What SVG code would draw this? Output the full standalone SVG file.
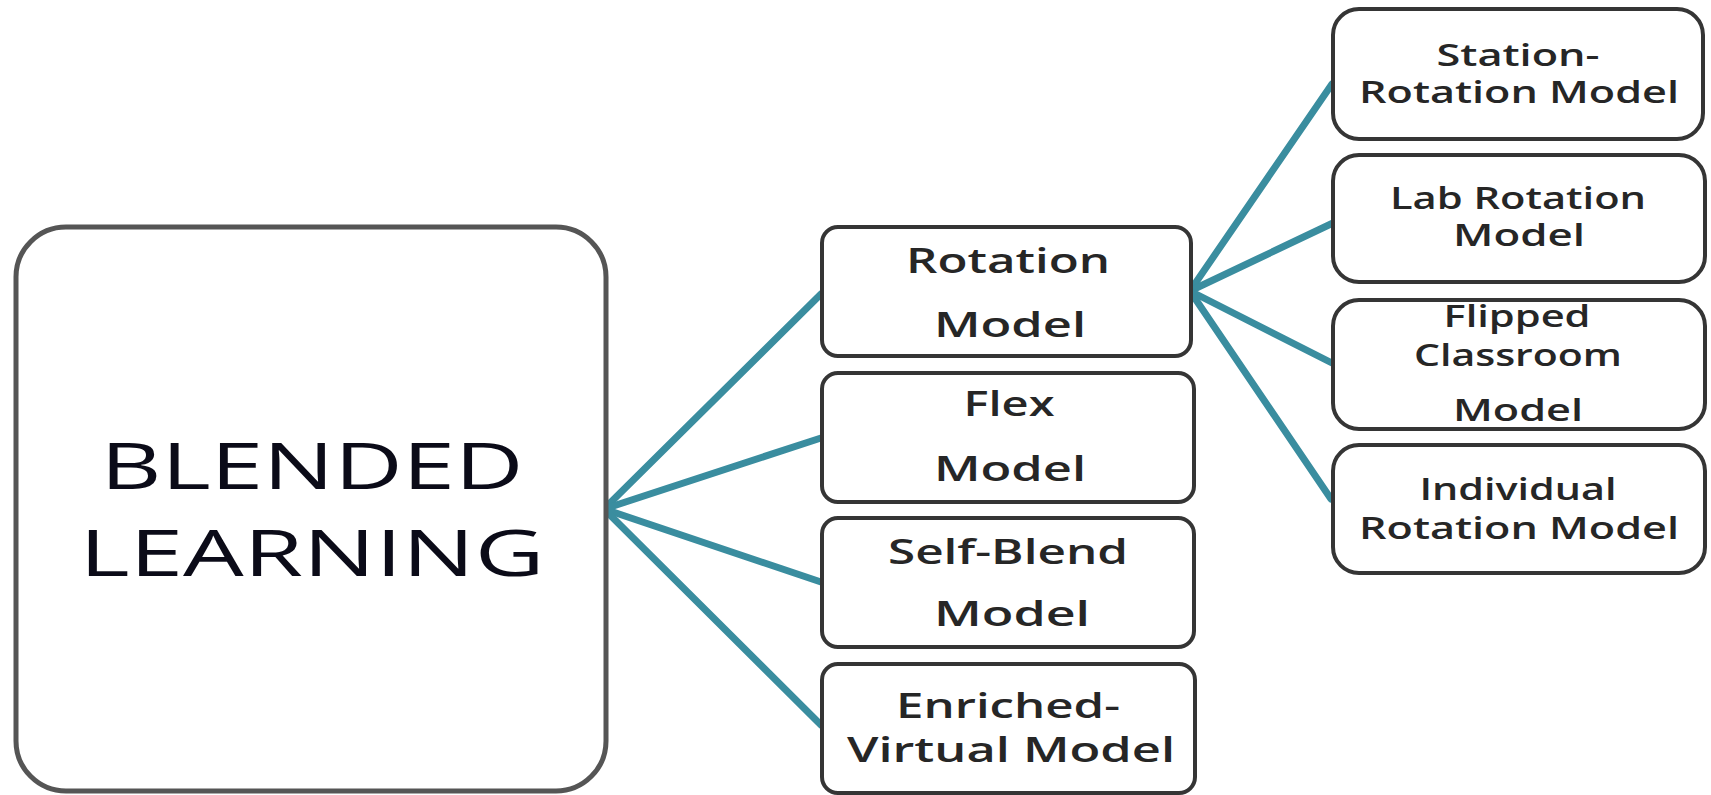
<svg xmlns="http://www.w3.org/2000/svg" width="1711" height="795" viewBox="0 0 1711 795">
<style>
.box{fill:#ffffff;stroke:#353535;stroke-width:4}
.big{fill:#ffffff;stroke:#555555;stroke-width:5}
.t{font-family:"Open Sans","DejaVu Sans",sans-serif;fill:#262626;text-anchor:middle;font-weight:600}
.m{font-size:35px}
.r{font-size:30px}
.b{font-size:64px;fill:#0b0b18;font-weight:500}
.c{stroke:#3a8d9f;stroke-width:7;stroke-linecap:round;fill:none}
</style>
<rect width="1711" height="795" fill="#ffffff"/>
<g id="connectors">
<line class="c" x1="604" y1="509" x2="821" y2="294"/>
<line class="c" x1="604" y1="509" x2="821" y2="438"/>
<line class="c" x1="604" y1="509" x2="821" y2="582"/>
<line class="c" x1="604" y1="509" x2="821" y2="725"/>
<line class="c" x1="1190" y1="291" x2="1332" y2="84"/>
<line class="c" x1="1190" y1="291" x2="1333" y2="223"/>
<line class="c" x1="1190" y1="291" x2="1332" y2="363"/>
<line class="c" x1="1190" y1="291" x2="1331" y2="499"/>
</g>
<g id="blended-learning">
<rect class="big" x="16" y="227" width="590" height="564" rx="50"/>
<text class="t b" x="312" y="489" textLength="423" lengthAdjust="spacingAndGlyphs">BLENDED</text>
<text class="t b" x="312" y="576" textLength="465" lengthAdjust="spacingAndGlyphs">LEARNING</text>
</g>
<g id="rotation-model">
<rect class="box" x="822" y="227" width="369" height="129" rx="16"/>
<text class="t m" x="1008" y="273" textLength="204" lengthAdjust="spacingAndGlyphs">Rotation</text>
<text class="t m" x="1010" y="337" textLength="152" lengthAdjust="spacingAndGlyphs">Model</text>
</g>
<g id="flex-model">
<rect class="box" x="822" y="373" width="372" height="129" rx="16"/>
<text class="t m" x="1009" y="416" textLength="91" lengthAdjust="spacingAndGlyphs">Flex</text>
<text class="t m" x="1010" y="481" textLength="152" lengthAdjust="spacingAndGlyphs">Model</text>
</g>
<g id="self-blend-model">
<rect class="box" x="822" y="518" width="372" height="129" rx="16"/>
<text class="t m" x="1008" y="564" textLength="240" lengthAdjust="spacingAndGlyphs">Self-Blend</text>
<text class="t m" x="1012" y="626" textLength="156" lengthAdjust="spacingAndGlyphs">Model</text>
</g>
<g id="enriched-virtual-model">
<rect class="box" x="822" y="664" width="373" height="129" rx="16"/>
<text class="t m" x="1008" y="718" textLength="224" lengthAdjust="spacingAndGlyphs">Enriched-</text>
<text class="t m" x="1011" y="762" textLength="328" lengthAdjust="spacingAndGlyphs">Virtual Model</text>
</g>
<g id="station-rotation-model">
<rect class="box" x="1333" y="9" width="370" height="130" rx="26"/>
<text class="t r" x="1518" y="66" textLength="163" lengthAdjust="spacingAndGlyphs">Station-</text>
<text class="t r" x="1519" y="103" textLength="320" lengthAdjust="spacingAndGlyphs">Rotation Model</text>
</g>
<g id="lab-rotation-model">
<rect class="box" x="1333" y="155" width="372" height="127" rx="26"/>
<text class="t r" x="1518" y="209" textLength="256" lengthAdjust="spacingAndGlyphs">Lab Rotation</text>
<text class="t r" x="1519" y="246" textLength="132" lengthAdjust="spacingAndGlyphs">Model</text>
</g>
<g id="flipped-classroom-model">
<rect class="box" x="1333" y="300" width="372" height="129" rx="26"/>
<text class="t r" x="1517" y="327" textLength="147" lengthAdjust="spacingAndGlyphs">Flipped</text>
<text class="t r" x="1518" y="366" textLength="208" lengthAdjust="spacingAndGlyphs">Classroom</text>
<text class="t r" x="1518" y="421" textLength="130" lengthAdjust="spacingAndGlyphs">Model</text>
</g>
<g id="individual-rotation-model">
<rect class="box" x="1333" y="445" width="372" height="128" rx="26"/>
<text class="t r" x="1518" y="500" textLength="197" lengthAdjust="spacingAndGlyphs">Individual</text>
<text class="t r" x="1519" y="539" textLength="320" lengthAdjust="spacingAndGlyphs">Rotation Model</text>
</g>
</svg>
